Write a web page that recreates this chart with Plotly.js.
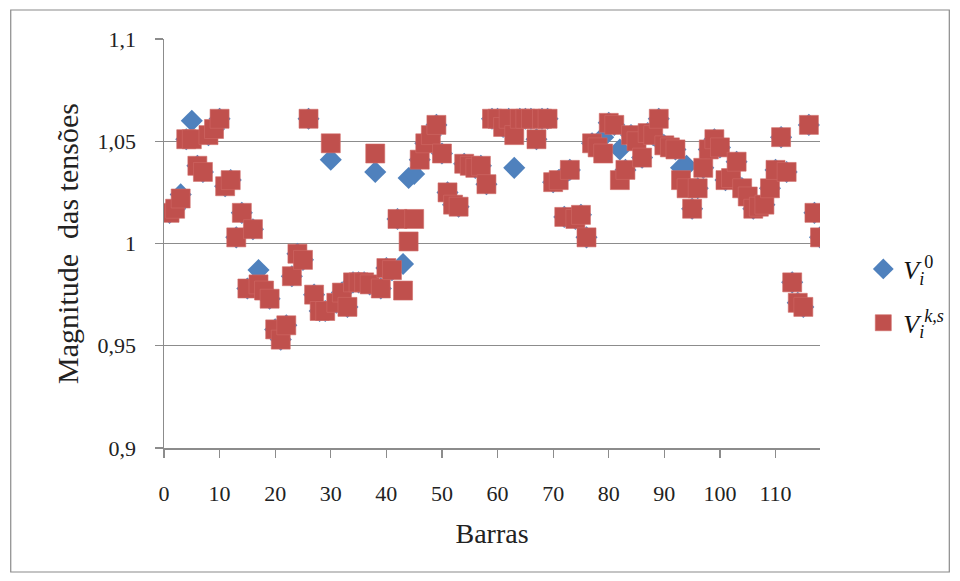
<!DOCTYPE html>
<html>
<head>
<meta charset="utf-8">
<script src="https://cdn.plot.ly/plotly-3.0.1.min.js"></script>
<style>
  html, body { margin: 0; padding: 0; background: #ffffff; }
  #chart { width: 960px; height: 581px; }
</style>
</head>
<body>
<div id="chart"></div>
<script>
// Bus numbers 1..118
const buses = [
  1,2,3,4,5,6,7,8,9,10,11,12,13,14,15,16,17,18,19,20,
  21,22,23,24,25,26,27,28,29,30,31,32,33,34,35,36,37,38,39,40,
  41,42,43,44,45,46,47,48,49,50,51,52,53,54,55,56,57,58,59,60,
  61,62,63,64,65,66,67,68,69,70,71,72,73,74,75,76,77,78,79,80,
  81,82,83,84,85,86,87,88,89,90,91,92,93,94,95,96,97,98,99,100,
  101,102,103,104,105,106,107,108,109,110,111,112,113,114,115,116,117,118
];

// Initial voltage magnitudes V_i^0 (blue diamonds)
const v0 = [
  1.015,1.017,1.024,1.051,1.060,1.038,1.035,1.053,1.056,1.061,
  1.028,1.031,1.003,1.015,0.978,1.007,0.987,0.977,0.973,0.958,
  0.953,0.960,0.984,0.995,0.992,1.061,0.975,0.967,0.967,1.041,
  0.971,0.976,0.969,0.981,0.981,0.981,0.980,1.035,0.978,0.988,
  0.987,1.012,0.990,1.032,1.034,1.041,1.049,1.053,1.058,1.044,
  1.025,1.019,1.018,1.039,1.038,1.037,1.038,1.029,1.061,1.061,
  1.057,1.061,1.037,1.061,1.061,1.061,1.051,1.061,1.061,1.030,
  1.031,1.013,1.036,1.012,1.014,1.003,1.049,1.047,1.052,1.059,
  1.058,1.046,1.036,1.053,1.050,1.042,1.054,1.053,1.061,1.048,
  1.047,1.046,1.037,1.038,1.017,1.027,1.037,1.046,1.051,1.047,
  1.031,1.032,1.040,1.027,1.023,1.017,1.018,1.019,1.027,1.036,
  1.052,1.035,0.981,0.971,0.969,1.058,1.015,1.003
];

// Final voltage magnitudes V_i^{k,s} (red squares)
const vks = [
  1.015,1.017,1.022,1.051,1.051,1.038,1.035,1.053,1.056,1.061,
  1.028,1.031,1.003,1.015,0.978,1.007,0.980,0.977,0.973,0.958,
  0.953,0.960,0.984,0.995,0.992,1.061,0.975,0.967,0.967,1.049,
  0.971,0.976,0.969,0.981,0.981,0.981,0.980,1.044,0.978,0.988,
  0.987,1.012,0.977,1.001,1.012,1.041,1.049,1.053,1.058,1.044,
  1.025,1.019,1.018,1.039,1.038,1.037,1.038,1.029,1.061,1.061,
  1.057,1.061,1.053,1.061,1.061,1.061,1.051,1.061,1.061,1.030,
  1.031,1.013,1.036,1.012,1.014,1.003,1.049,1.047,1.044,1.059,
  1.058,1.031,1.036,1.053,1.050,1.042,1.054,1.053,1.061,1.048,
  1.047,1.046,1.031,1.027,1.017,1.027,1.037,1.046,1.051,1.047,
  1.031,1.032,1.040,1.027,1.023,1.017,1.018,1.019,1.027,1.036,
  1.052,1.035,0.981,0.971,0.969,1.058,1.015,1.003
];

const xTickVals = [0,10,20,30,40,50,60,70,80,90,100,110];
const xTickText = ['0','10','20','30','40','50','60','70','80','90','100','110'];
const yTickVals = [0.9,0.95,1,1.05,1.1];
const yTickText = ['0,9','0,95','1','1,05','1,1'];

const serif = 'Liberation Serif, Times New Roman, serif';

const traces = [
  {
    x: buses, y: v0, type: 'scatter', mode: 'markers',
    name: '<i>V</i><sub><i>i</i></sub><sup>0</sup>',
    legendgroup: 'a',
    marker: { symbol: 'diamond', size: 17, color: '#4F81BD', line: { width: 0 } }
  },
  {
    x: buses, y: vks, type: 'scatter', mode: 'markers',
    name: '<i>V</i><sub><i>i</i></sub><sup><i>k,s</i></sup>',
    legendgroup: 'b',
    marker: { symbol: 'square', size: 19, color: '#C0504D', line: { width: 0.6, color: '#D06A67' } }
  }
];

const L = 163.5, R = 139.5, T = 39, B = 133;
const pw = 960 - L - R, ph = 581 - T - B;
const px = v => (v - L) / pw;
const py = v => (581 - B - v) / ph;

const layout = {
  width: 960, height: 581,
  margin: { l: L, r: R, t: T, b: B, pad: 0, autoexpand: false },
  paper_bgcolor: '#ffffff', plot_bgcolor: '#ffffff',
  font: { family: serif, color: '#222222', size: 22 },
  showlegend: true,
  legend: {
    x: 1.066, xanchor: 'left', y: 0.495, yanchor: 'top',
    font: { family: serif, size: 26, color: '#111111' },
    bgcolor: 'rgba(0,0,0,0)', tracegroupgap: 17,
    itemsizing: 'trace'
  },
  xaxis: {
    range: [0, 118], autorange: false,
    tickvals: xTickVals, ticktext: xTickText,
    ticks: 'outside', ticklen: 8, tickwidth: 1.2, tickcolor: '#8c8c8c',
    ticklabelstandoff: 17,
    showline: true, linecolor: '#8c8c8c', linewidth: 1.5,
    showgrid: false, zeroline: false,
    tickfont: { family: serif, size: 22, color: '#222222' },
    title: { text: 'Barras', font: { family: serif, size: 28, color: '#222222' }, standoff: 18 }
  },
  yaxis: {
    range: [0.9, 1.1], autorange: false,
    tickvals: yTickVals, ticktext: yTickText,
    ticks: 'outside', ticklen: 8, tickwidth: 1.2, tickcolor: '#8c8c8c',
    ticklabelstandoff: 14,
    showline: true, linecolor: '#8c8c8c', linewidth: 1.5,
    showgrid: true, gridcolor: '#8c8c8c', gridwidth: 1.2, zeroline: false,
    tickfont: { family: serif, size: 22, color: '#222222' },
    title: { text: 'Magnitude  das tensões', font: { family: serif, size: 30, color: '#222222' }, standoff: 10 }
  },
  shapes: [
    {
      type: 'rect', xref: 'paper', yref: 'paper',
      x0: px(10), x1: px(950), y0: py(572), y1: py(10),
      line: { color: '#8a8a8a', width: 1.2 }, fillcolor: 'rgba(0,0,0,0)', layer: 'below'
    }
  ]
};

Plotly.newPlot('chart', traces, layout, { staticPlot: true, displayModeBar: false });
</script>
</body>
</html>
